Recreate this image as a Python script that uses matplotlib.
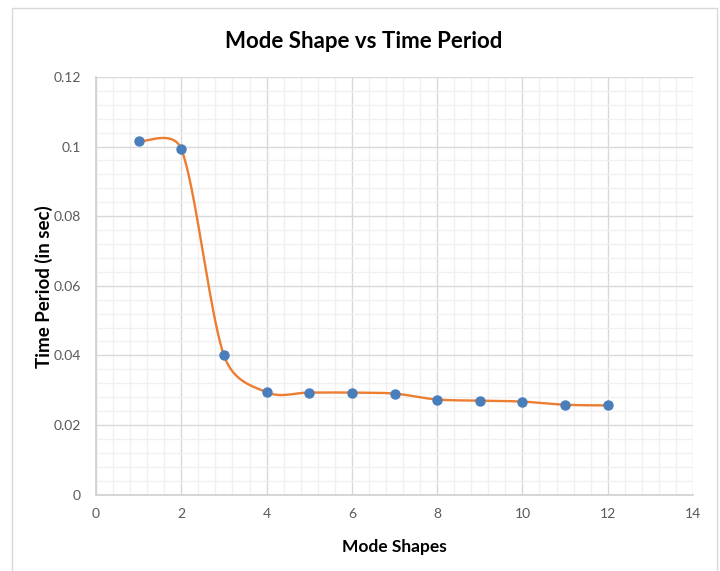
import numpy as np
import matplotlib
matplotlib.use("Agg")
import matplotlib.pyplot as plt
from matplotlib.patches import Rectangle
from matplotlib.ticker import MultipleLocator, FuncFormatter

plt.rcParams['font.family'] = ['Lato', 'DejaVu Sans']

# ---- data ----
mode_shapes = [1, 2, 3, 4, 5, 6, 7, 8, 9, 10, 11, 12]
time_period = [0.1015, 0.0993, 0.0400, 0.0294, 0.0293, 0.0293, 0.0290,
               0.0273, 0.0270, 0.0267, 0.0258, 0.0256]
title = "Mode Shape vs Time Period"
x_label = "Mode Shapes"
y_label = "Time Period (in sec)"

fig = plt.figure(figsize=(7.2, 5.71), dpi=100)
fig.patch.set_facecolor('white')

# outer chart border
fig.patches.append(Rectangle((12 / 720, -0.05), (717 - 12) / 720, 1.05 - 8 / 571,
                             transform=fig.transFigure, fill=False,
                             edgecolor='#d9d9d9', linewidth=1.0))

ax = fig.add_axes([96 / 720, (571 - 494.5) / 571, (693 - 96) / 720, (494.5 - 77) / 571])
ax.set_xlim(0, 14)
ax.set_ylim(0, 0.12)
ax.xaxis.set_major_locator(MultipleLocator(2))
ax.xaxis.set_minor_locator(MultipleLocator(0.4))
ax.yaxis.set_major_locator(MultipleLocator(0.02))
ax.yaxis.set_minor_locator(MultipleLocator(0.004))
ax.xaxis.set_major_formatter(FuncFormatter(lambda v, p: f"{int(round(v))}"))
ax.yaxis.set_major_formatter(FuncFormatter(
    lambda v, p: "0" if abs(v) < 1e-9 else (f"{v:.2f}".rstrip('0'))))

ax.grid(which='major', color='#d9d9d9', linewidth=1.0)
ax.grid(which='minor', color='#f0f0f0', linewidth=1.0)
ax.set_axisbelow(True)
for s in ['top', 'right']:
    ax.spines[s].set_visible(False)
for s in ['left', 'bottom']:
    ax.spines[s].set_color('#d0d0d0')
    ax.spines[s].set_linewidth(1.2)
ax.tick_params(which='both', length=0)
ax.tick_params(axis='y', pad=11, labelsize=10, labelcolor='#595959')
ax.tick_params(axis='x', pad=10, labelsize=10, labelcolor='#595959')

# ---- smoothed line (Excel-like Bezier smoothing, computed in display space) ----
pts = ax.transData.transform(np.column_stack([mode_shapes, time_period]))
n = len(pts)
tang = []
for i in range(n):
    a = pts[max(i - 1, 0)]
    b = pts[min(i + 1, n - 1)]
    tang.append((b - a) / 6.0)
curve = []
for i in range(n - 1):
    p0, p3 = pts[i], pts[i + 1]
    seg = np.linalg.norm(p3 - p0)
    t0, t1 = tang[i].copy(), tang[i + 1].copy()
    for t in (t0, t1):
        L = np.linalg.norm(t)
        if L > 0.5 * seg:
            t *= 0.5 * seg / L
    p1 = p0 + t0
    p2 = p3 - t1
    tt = np.linspace(0, 1, 60)[:, None]
    bz = ((1 - tt) ** 3) * p0 + 3 * ((1 - tt) ** 2) * tt * p1 + 3 * (1 - tt) * tt ** 2 * p2 + tt ** 3 * p3
    curve.append(bz if i == 0 else bz[1:])
curve = np.vstack(curve)
curve_data = ax.transData.inverted().transform(curve)
ax.plot(curve_data[:, 0], curve_data[:, 1], color='#ed7d31', linewidth=1.7,
        solid_capstyle='round', zorder=3, clip_on=False)
ax.plot(mode_shapes, time_period, linestyle='none', marker='o', markersize=6.5,
        markerfacecolor='#4a7ebb', markeredgecolor='#4a7ebb', zorder=4, clip_on=False)

# ---- texts ----
fig.text(364 / 720, 1 - 41 / 571, title, ha='center', va='center',
         fontsize=16, fontweight='bold', color='#000000')
ax.set_xlabel(x_label, fontsize=12.5, fontweight='bold', color='#000000', va='center')
ax.xaxis.set_label_coords((394 - 96) / 597, (494.5 - 547) / 417.5)
ax.set_ylabel(y_label, fontsize=13.5, fontweight='bold', color='#000000', va='center', ha='center')
ax.yaxis.set_label_coords((44 - 96) / 597, (494.5 - 287) / 417.5)

fig.savefig('out.png', dpi=100)
